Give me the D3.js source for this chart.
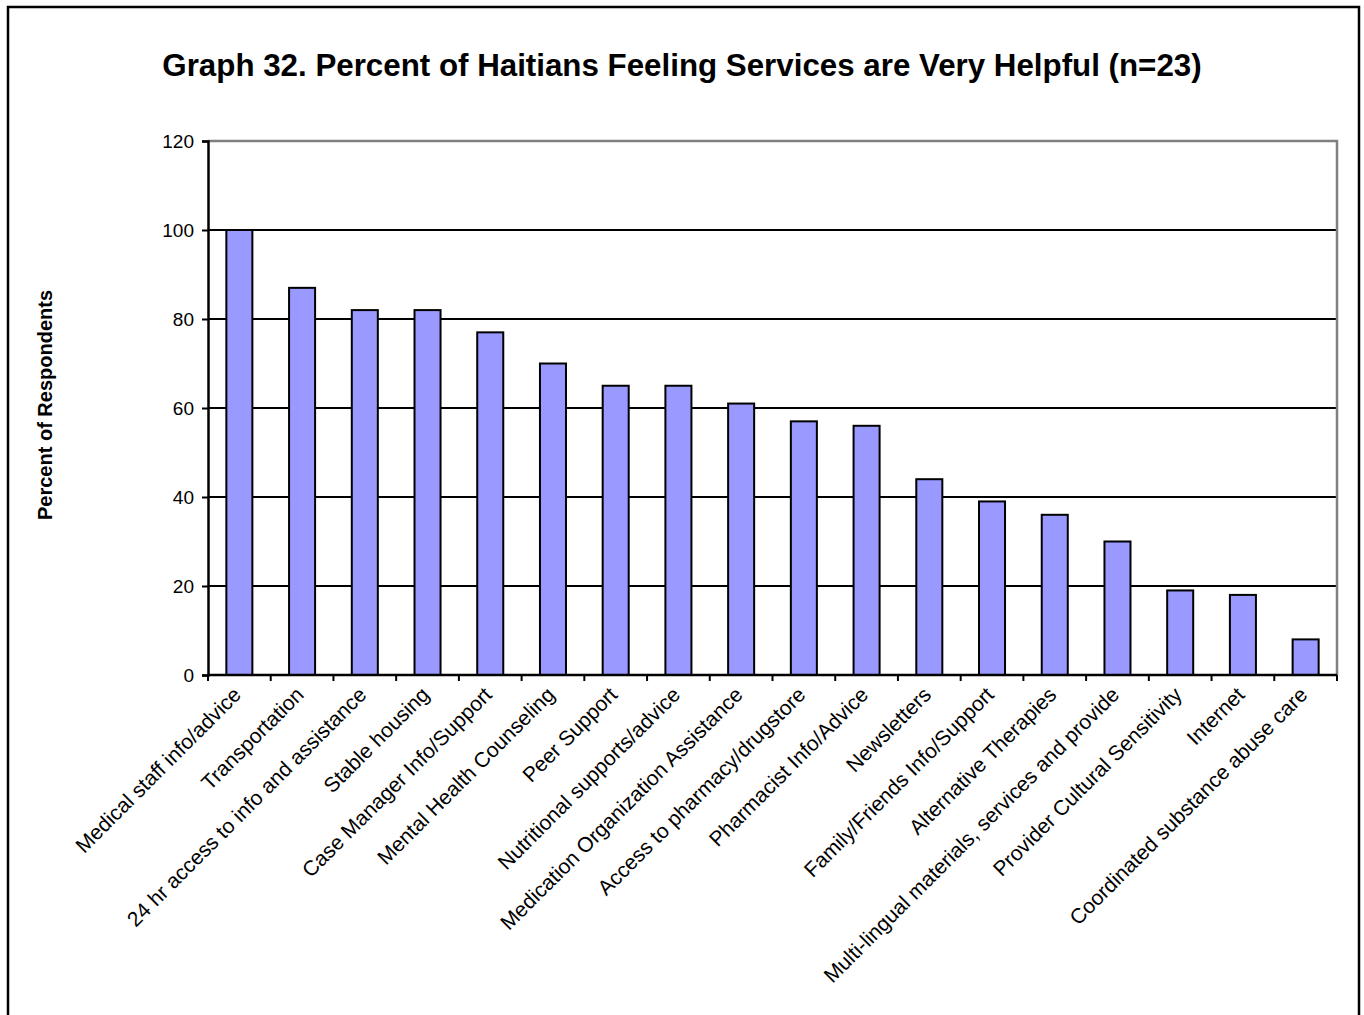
<!DOCTYPE html>
<html>
<head>
<meta charset="utf-8">
<script src="https://cdn.jsdelivr.net/npm/d3@7"></script>
<style>
  html, body { margin: 0; padding: 0; background: #fff; }
  svg { display: block; font-family: Arial, "Liberation Sans", sans-serif; }
</style>
</head>
<body>
<svg id="chart" width="1364" height="1015"></svg>
<script>
// Services rated "very helpful" by Haitian respondents
const categories = [
  "Medical staff info/advice",
  "Transportation",
  "24 hr access to info and assistance",
  "Stable housing",
  "Case Manager Info/Support",
  "Mental Health Counseling",
  "Peer Support",
  "Nutritional supports/advice",
  "Medication Organization Assistance",
  "Access to pharmacy/drugstore",
  "Pharmacist Info/Advice",
  "Newsletters",
  "Family/Friends Info/Support",
  "Alternative Therapies",
  "Multi-lingual materials, services and provide",
  "Provider Cultural Sensitivity",
  "Internet",
  "Coordinated substance abuse care"
];
const percents = [100, 87, 82, 82, 77, 70, 65, 65, 61, 57, 56, 44, 39, 36, 30, 19, 18, 8];
const yTicks = [0, 20, 40, 60, 80, 100, 120];

const titleText = "Graph 32. Percent of Haitians Feeling Services are Very Helpful (n=23)";
const yTitle = "Percent of Respondents";

const svg = d3.select("#chart");

// outer frame
svg.append("rect")
  .attr("x", 8).attr("y", 7)
  .attr("width", 1351).attr("height", 1040)
  .attr("fill", "none").attr("stroke", "#000").attr("stroke-width", 2.5);

const plot = { left: 208, right: 1337, top: 141, bottom: 675 };

const x = d3.scaleBand()
  .domain(categories)
  .range([plot.left, plot.right])
  .paddingInner(0.585)
  .paddingOuter(0.2925);

const y = d3.scaleLinear().domain([0, 120]).range([plot.bottom, plot.top]);

// title
svg.append("text")
  .attr("x", 682).attr("y", 76)
  .attr("text-anchor", "middle")
  .attr("font-size", 31.3).attr("font-weight", "bold")
  .text(titleText);

// y-axis title
svg.append("text")
  .attr("transform", `translate(52,${(plot.top + plot.bottom) / 2 - 3}) rotate(-90)`)
  .attr("text-anchor", "middle")
  .attr("font-size", 20).attr("font-weight", "bold")
  .text(yTitle);

// horizontal gridlines
svg.append("g")
  .selectAll("line")
  .data(yTicks.filter(t => t > 0 && t < 120))
  .join("line")
  .attr("x1", plot.left).attr("x2", plot.right)
  .attr("y1", d => y(d)).attr("y2", d => y(d))
  .attr("stroke", "#000").attr("stroke-width", 2);

// plot border (top and right) in grey
svg.append("path")
  .attr("d", `M${plot.left},${y(120)}H${plot.right}V${plot.bottom}`)
  .attr("fill", "none").attr("stroke", "#808080").attr("stroke-width", 2.5);

// bars
svg.append("g")
  .selectAll("rect")
  .data(categories)
  .join("rect")
  .attr("x", d => x(d))
  .attr("width", x.bandwidth())
  .attr("y", (d, i) => y(percents[i]))
  .attr("height", (d, i) => y(0) - y(percents[i]))
  .attr("fill", "#9999FF")
  .attr("stroke", "#000").attr("stroke-width", 2);

// y axis
const yAxis = d3.axisLeft(y).tickValues(yTicks).tickSize(6).tickPadding(8);
const gy = svg.append("g")
  .attr("transform", `translate(${plot.left},0)`)
  .call(yAxis);
gy.select(".domain").attr("stroke", "#000").attr("stroke-width", 2.5);
gy.selectAll(".tick line").attr("stroke", "#000").attr("stroke-width", 2);
gy.selectAll(".tick text")
  .attr("font-size", 19).attr("font-family", "Arial, 'Liberation Sans', sans-serif")
  .attr("fill", "#000");

// x axis line and tick marks at category boundaries
const step = x.step();
const boundaries = d3.range(categories.length + 1).map(i => plot.left + i * step);
svg.append("line")
  .attr("x1", plot.left).attr("x2", plot.right)
  .attr("y1", y(0)).attr("y2", y(0))
  .attr("stroke", "#000").attr("stroke-width", 2.5);
svg.append("g")
  .selectAll("line")
  .data(boundaries)
  .join("line")
  .attr("x1", d => d).attr("x2", d => d)
  .attr("y1", y(0)).attr("y2", y(0) + 6)
  .attr("stroke", "#000").attr("stroke-width", 2);

// rotated category labels
svg.append("g")
  .selectAll("text")
  .data(categories)
  .join("text")
  .attr("transform", d => {
    const cx = x(d) + x.bandwidth() / 2 + 3;
    return `translate(${cx},${y(0) + 21}) rotate(-45)`;
  })
  .attr("text-anchor", "end")
  .attr("font-size", 21)
  .text(d => d);
</script>
</body>
</html>
